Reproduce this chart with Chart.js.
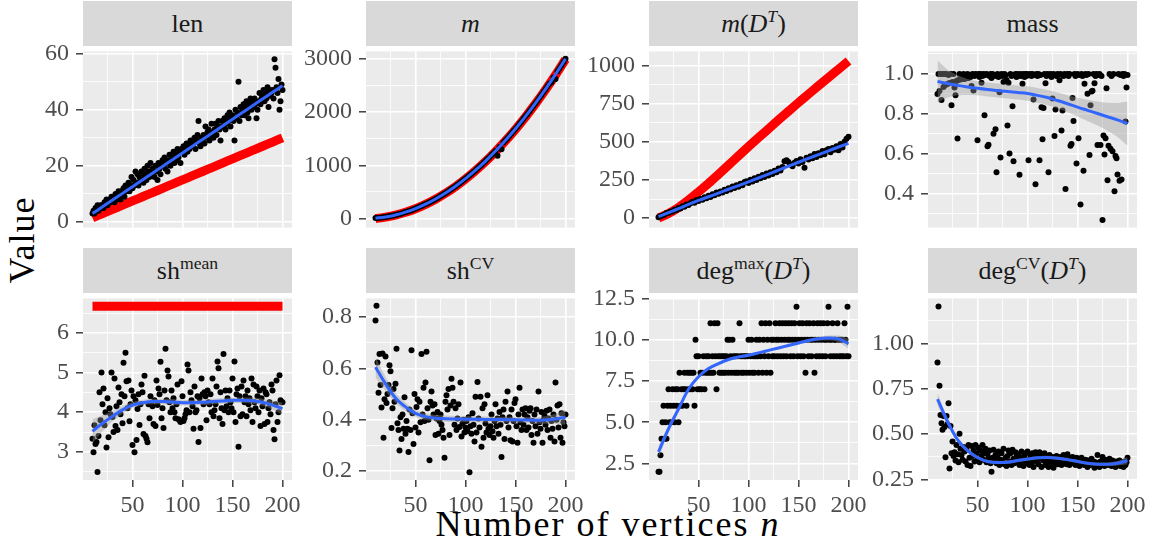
<!DOCTYPE html>
<html>
<head>
<meta charset="utf-8">
<script src="https://cdn.jsdelivr.net/npm/chart.js@4.4.0/dist/chart.umd.min.js"></script>
<style>
  body { margin: 0; background: #fff; width: 1155px; height: 551px; position: relative; overflow: hidden; font-family: 'Liberation Serif', serif; }
  canvas { position: absolute; }
  .strip { position: absolute; background: #D9D9D9; color: #1A1A1A; font-size: 26px; display: flex; align-items: center; justify-content: center; }
  .strip span { display: inline-block; line-height: 1; }
  .strip sup { font-size: 0.68em; vertical-align: 0.55em; line-height: 0; }
  .ytitle { position: absolute; left: 22px; top: 240px; font-size: 36px; transform: translate(-50%, -50%) rotate(-90deg); white-space: nowrap; letter-spacing: 1px; }
  .xtitle { position: absolute; left: 608px; top: 524px; font-size: 36px; transform: translate(-50%, -50%); white-space: nowrap; letter-spacing: 2px; }
</style>
</head>
<body>
<div class="ytitle">Value</div>
<div class="xtitle">Number of vertices <i>n</i></div>
<script>
// number of vertices for each sampled graph
const nAll = [10,11,12,13,14,15,16,17,18,19,20,21,22,23,24,25,26,27,28,29,30,31,32,33,34,35,36,37,38,39,
  40,41,42,43,44,45,46,47,48,49,50,51,52,53,54,55,56,57,58,59,60,61,62,63,64,65,66,67,68,69,
  70,71,72,73,74,75,76,77,78,79,80,81,82,83,84,85,86,87,88,89,90,91,92,93,94,95,96,97,98,99,
  100,101,102,103,104,105,106,107,108,109,110,111,112,113,114,115,116,117,118,119,
  120,121,122,123,124,125,126,127,128,129,130,131,132,133,134,135,136,137,138,139,
  140,141,142,143,144,145,146,147,148,149,150,151,152,153,154,155,156,157,158,159,
  160,161,162,163,164,165,166,167,168,169,170,171,172,173,174,175,176,177,178,179,
  180,181,182,183,184,185,186,187,188,189,190,191,192,193,194,195,196,197,198,199,200];
const nEven = [10,12,14,16,18,20,22,24,26,28,30,32,34,36,38,40,42,44,46,48,50,52,54,56,58,60,62,64,66,68,
  70,72,74,76,78,80,82,84,86,88,90,92,94,96,98,100,102,104,106,108,110,112,114,116,118,120,122,124,126,128,
  130,132,134,136,138,140,142,144,146,148,150,152,154,156,158,160,162,164,166,168,170,172,174,176,178,180,
  182,184,186,188,190,192,194,196,198,200];
const nCurve = [10,20,30,40,50,60,70,80,90,100,110,120,130,140,150,160,170,180,190,200];

// measured values
const lenValues = [3,4,3,5,4,6,4,5,6,5, 6,5,7,6,8,6,7,8,7,9, 8,9,7,10,8,9,11,10,8,11,
  10,12,9,13,11,12,14,11,13,16, 12,15,13,18,14,17,13,16,15,18, 16,14,19,17,15,20,18,16,21,17,
  19,18,16,20,18,15,21,19,17,20, 22,20,23,19,21,18,22,24,20,21, 23,25,21,24,22,26,23,25,21,26,
  25,27,24,26,28,25,27,26,29,28, 27,28,30,26,29,31,36,28,27,30, 29,31,28,34,30,32,33,29,31,35,
  32,30,33,35,31,34,36,33,29,34, 36,34,37,33,35,38,36,39,34,37, 38,36,29,40,37,39,50,36,41,38,
  40,42,38,41,43,39,37,42,44,40, 43,41,44,42,37,40,43,46,42,44, 45,47,43,46,44,48,41,47,45,46,
  47,44,58,55,48,46,51,40,43,49, 47];
const mValues = [8,11,15,19,25,30,37,43,51,59, 68,77,87,96,109,121,132,146,158,174,
  188,203,220,234,253,271,287,308,327,345, 369,388,412,432,457,481,503,530,553,582,
  608,633,664,690,722,751,779,813,841,876, 908,939,976,1007,1046,1080,1117,1150,1192,1227,
  1268,1180,1345,1300,1430,1470,1510,1557,1598,1644, 1688,1731,1780,1824,1873,1921,1966,2018,2066,2117,
  2168,2217,2272,2322,2377,2431,2485,2538,2560,2651, 2620,2766,2823,2880,2941,3001];
const mdtValues = [5,14,18,22,33,34,44,43,55,54, 66,63,78,75,90,86,98,107,101,118,
  112,127,120,137,131,146,138,157,150,168, 160,175,168,186,178,196,188,207,198,216,
  206,226,215,236,241,230,252,240,262,250, 271,262,283,270,292,280,300,289,310,300,
  325,312,335,372,379,368,352,340,362,375, 358,385,368,330,395,384,405,392,420,400,
  425,412,440,418,445,452,432,460,448,470, 445,485,462,500,520,533];
const massValues = [0.90,1.00,0.915,1.00,0.87,1.00,0.935,1.00,0.945,1.00,
  0.95,0.995,0.955,1.00,0.843,0.96,1.00,0.932,0.893,0.965,
  0.677,0.97,1.00,0.972,0.995,0.975,1.00,0.975,0.99,0.978,
  1.00,0.98,0.99,0.985,0.94,1.00,0.917,0.99,1.00,0.995,
  0.668,1.00,0.985,1.00,0.956,0.99,1.00,0.794,0.995,1.00,
  0.638,0.646,0.99,1.00,0.98,1.00,0.701,0.99,0.723,0.508,
  1.00,0.985,0.909,0.582,1.00,0.99,0.96,1.00,0.995,0.97,
  0.742,0.956,0.602,1.00,0.99,0.838,0.563,0.995,1.00,0.985,
  1.00,0.99,0.495,1.00,0.99,0.951,1.00,0.985,1.00,0.99,
  1.00,0.568,0.995,1.00,0.99,1.00,0.872,0.995,0.448,1.00,
  0.99,1.00,0.568,0.995,0.833,0.673,0.830,1.00,0.953,0.99,
  1.00,0.508,0.995,1.00,0.985,0.877,1.00,0.689,0.822,0.99,
  1.00,0.995,0.968,1.00,0.717,0.817,0.99,1.00,0.424,0.995,
  1.00,0.99,1.00,0.641,0.649,0.880,0.764,1.00,0.99,0.552,
  1.00,0.678,0.995,0.347,1.00,0.99,0.516,0.951,1.00,0.995,
  0.901,1.00,0.594,0.843,0.912,0.916,1.00,0.953,0.99,1.00,
  0.645,0.995,1.00,0.645,0.99,0.269,0.692,0.597,0.678,0.929,
  0.468,0.641,1.00,0.626,0.99,0.613,1.00,0.413,0.590,0.578,
  0.497,1.00,0.465,0.995,0.472,1.00,0.99,1.00,0.762,0.932, 0.995];
const shMeanValues = [3.33,2.99,3.67,3.20,3.25,2.49,3.40,4.50,3.80,5.00,
  4.20,4.60,3.67,4.00,3.11,4.35,3.37,4.10,3.95,5.00, 3.88,3.50,4.85,3.65,4.15,3.55,4.62,4.25,3.95,4.45,
  3.72,5.25,4.40,5.50,4.78,4.10,4.80,3.77,4.20,4.55, 3.17,4.40,2.99,4.30,3.30,4.08,4.45,3.68,4.20,4.70,
  4.50,3.45,4.92,3.40,3.33,3.24,4.20,3.85,4.40,4.20, 4.15,3.70,4.30,3.65,4.80,4.18,4.60,4.45,5.27,3.85,
  4.10,3.60,4.55,5.60,4.30,5.05,4.90,4.25,4.00,4.55, 4.10,4.35,4.00,3.85,4.20,4.70,3.82,3.80,3.75,4.78,
  4.40,3.78,3.85,3.95,4.05,5.20,5.05,4.00,4.50,4.30, 4.15,3.58,4.65,4.00,4.05,4.40,3.25,4.35,3.60,4.85,
  4.45,4.20,4.50,4.40,3.80,4.55,4.25,4.20,4.45,4.00, 4.85,3.90,4.05,4.20,4.65,5.28,5.11,3.85,4.50,4.10,
  3.70,5.47,4.05,4.55,4.15,4.35,4.00,4.55,4.25,4.10, 4.85,4.00,5.28,3.75,4.45,4.60,3.13,4.40,3.90,4.65,
  3.95,4.80,4.25,4.40,3.90,4.55,4.20,4.35,4.05,4.85, 3.75,4.70,4.25,4.10,4.65,4.40,4.00,4.55,3.65,4.35,
  4.15,4.60,3.70,4.50,4.45,3.75,4.10,4.25,3.95,4.70, 4.55,3.55,3.32,4.20,4.80,3.75,4.00,4.93,4.30,4.25, 4.25];
const shCvValues = [0.787,0.844,0.623,0.505,0.656,0.535,0.448,0.658,0.330,0.480,
  0.646,0.465,0.500,0.535,0.612,0.589,0.368,0.445,0.520,0.470, 0.540,0.677,0.386,0.360,0.280,0.410,0.325,0.420,0.365,0.488,
  0.345,0.395,0.365,0.274,0.440,0.360,0.671,0.425,0.305,0.500, 0.370,0.450,0.480,0.350,0.470,0.390,0.656,0.420,0.525,0.395,
  0.545,0.665,0.445,0.400,0.242,0.470,0.510,0.455,0.420,0.460, 0.340,0.405,0.430,0.345,0.395,0.420,0.380,0.360,0.330,0.252,
  0.470,0.495,0.440,0.520,0.340,0.455,0.560,0.525,0.470,0.380, 0.445,0.360,0.405,0.460,0.372,0.545,0.335,0.385,0.400,0.350,
  0.370,0.395,0.355,0.410,0.195,0.375,0.345,0.425,0.380,0.315, 0.490,0.350,0.547,0.405,0.370,0.490,0.295,0.445,0.330,0.460,
  0.385,0.350,0.495,0.365,0.340,0.375,0.420,0.355,0.330,0.395, 0.460,0.375,0.405,0.345,0.430,0.380,0.255,0.410,0.440,0.325,
  0.470,0.395,0.510,0.370,0.410,0.320,0.440,0.315,0.395,0.465, 0.480,0.375,0.310,0.420,0.525,0.390,0.360,0.440,0.380,0.420,
  0.445,0.360,0.410,0.370,0.435,0.445,0.340,0.395,0.310,0.420, 0.375,0.440,0.345,0.510,0.390,0.365,0.430,0.310,0.400,0.415,
  0.380,0.435,0.360,0.405,0.440,0.330,0.395,0.365,0.420,0.315, 0.545,0.400,0.455,0.370,0.460,0.330,0.425,0.310,0.390,0.375, 0.420];
const degMaxValues = [2,2,3,4,5,6,4,5,4,6, 7,5,6,5,7,6,5,7,6,7, 5,8,6,7,6,7,8,7,6,8,
  7,8,7,8,7,8,6,10,9,7, 9,7,8,7,8,9,7,8,9,8, 9,8,11,8,9,8,11,9,7,11,
  9,8,9,8,9,8,9,8,9,10, 8,10,9,8,10,9,8,9,8,9, 8,11,9,8,9,8,9,9,8,9,
  10,8,9,10,8,9,8,9,10,9, 8,10,9,11,8,10,9,11,8,10, 9,11,8,10,9,10,9,11,10,9,
  10,11,9,10,11,9,10,11,9,10, 11,10,9,11,10,9,11,10,12,9, 10,11,9,10,11,9,10,8,11,10,
  9,11,10,9,10,11,8,10,9,11, 10,9,11,10,9,11,10,9,10,11, 12,10,9,10,11,9,10,10,9,11,
  10,9,10,9,10,9,11,10,9,12, 9];
const degCvValues = [0.894,1.203,0.767,0.605,0.560,0.525,0.600,0.540,0.373,0.600,
  0.555,0.670,0.311,0.545,0.395,0.460,0.380,0.400,0.355,0.440, 0.390,0.345,0.503,0.420,0.385,0.360,0.430,0.405,0.350,0.415,
  0.330,0.440,0.370,0.325,0.435,0.380,0.410,0.350,0.440,0.395, 0.360,0.425,0.345,0.410,0.380,0.440,0.360,0.395,0.420,0.345,
  0.390,0.365,0.410,0.340,0.293,0.370,0.415,0.350,0.385,0.340, 0.375,0.405,0.330,0.360,0.395,0.345,0.420,0.335,0.370,0.325,
  0.380,0.410,0.350,0.395,0.330,0.415,0.365,0.340,0.400,0.375, 0.345,0.390,0.330,0.370,0.405,0.355,0.325,0.380,0.395,0.340,
  0.405,0.360,0.330,0.385,0.345,0.395,0.320,0.375,0.400,0.350, 0.390,0.335,0.400,0.365,0.320,0.385,0.355,0.395,0.330,0.375,
  0.350,0.320,0.385,0.360,0.340,0.375,0.315,0.365,0.345,0.380, 0.335,0.365,0.350,0.375,0.330,0.370,0.385,0.345,0.360,0.335,
  0.390,0.355,0.330,0.365,0.345,0.375,0.340,0.360,0.330,0.370, 0.345,0.365,0.325,0.355,0.370,0.335,0.350,0.330,0.360,0.345,
  0.320,0.355,0.340,0.330,0.365,0.335,0.350,0.315,0.345,0.325, 0.385,0.340,0.320,0.350,0.330,0.375,0.345,0.325,0.360,0.335,
  0.350,0.330,0.365,0.340,0.325,0.355,0.335,0.345,0.320,0.350, 0.340,0.330,0.355,0.325,0.345,0.335,0.320,0.350,0.330,0.345, 0.370];

// reference (theory) curves, red
const lenRed = [1.5,3,4.5,6,7.5,9,10.5,12,13.5,15,16.5,18,19.5,21,22.5,24,25.5,27,28.5,30];
const mRed = [0,27,64,117,184,266,362,474,601,743,900,1071,1258,1460,1677,1909,2156,2419,2696,2990];
const mdtRed = [0,30,70,118,172,228,287,347,408,468,527,585,643,700,757,812,867,921,975,1029];
const shMeanRed = [6.67,6.67,6.67,6.67,6.67,6.67,6.67,6.67,6.67,6.67,6.67,6.67,6.67,6.67,6.67,6.67,6.67,6.67,6.67,6.67];

// loess fits (blue) and their confidence bands
const lenFit = [3.0,5.4,7.8,10.2,12.6,15.0,17.4,19.8,22.2,24.6,27.0,29.4,31.8,34.2,36.6,39.0,41.4,43.8,46.2,48.6];
const mFit = [8,30,68,120,188,270,368,480,608,750,908,1080,1268,1470,1688,1920,2168,2430,2708,3000];
const mdtFit = [10,36,62,90,116,140,164,189,213,238,263,288,314,340,366,391,416,441,466,490];
const massFit = [0.962,0.952,0.943,0.935,0.928,0.922,0.917,0.912,0.907,0.902,0.893,0.882,0.867,0.851,0.834,0.818,0.802,0.786,0.770,0.752];
const massHi = [1.067,1.022,0.993,0.975,0.963,0.957,0.952,0.947,0.942,0.938,0.930,0.920,0.907,0.894,0.881,0.871,0.862,0.856,0.855,0.862];
const massLo = [0.857,0.882,0.893,0.895,0.893,0.887,0.882,0.877,0.872,0.866,0.856,0.844,0.827,0.808,0.787,0.765,0.742,0.716,0.685,0.642];
const shMeanFit = [3.52,3.72,3.90,4.06,4.18,4.24,4.27,4.27,4.26,4.24,4.24,4.25,4.27,4.28,4.30,4.30,4.29,4.25,4.18,4.09];
const shMeanHi = [3.82,3.92,4.03,4.16,4.26,4.31,4.34,4.34,4.33,4.31,4.31,4.32,4.34,4.35,4.37,4.37,4.37,4.34,4.29,4.24];
const shMeanLo = [3.22,3.52,3.77,3.96,4.10,4.17,4.20,4.20,4.19,4.17,4.17,4.18,4.20,4.21,4.23,4.23,4.21,4.16,4.07,3.94];
const shCvFit = [0.605,0.540,0.485,0.450,0.425,0.412,0.406,0.404,0.403,0.402,0.402,0.401,0.401,0.400,0.400,0.399,0.398,0.399,0.403,0.410];
const shCvHi = [0.645,0.568,0.505,0.466,0.439,0.425,0.418,0.416,0.415,0.414,0.414,0.413,0.413,0.412,0.412,0.411,0.411,0.414,0.423,0.440];
const shCvLo = [0.565,0.512,0.465,0.434,0.411,0.399,0.394,0.392,0.391,0.390,0.390,0.389,0.389,0.388,0.388,0.387,0.385,0.384,0.383,0.380];
const degMaxFit = [3.2,4.6,5.8,7.0,7.75,8.25,8.55,8.8,8.95,9.06,9.2,9.35,9.5,9.65,9.8,9.95,10.05,10.1,10.05,9.75];
const degMaxHi = [3.55,4.85,5.98,7.14,7.87,8.35,8.65,8.89,9.04,9.15,9.29,9.44,9.59,9.75,9.9,10.05,10.17,10.25,10.25,10.05];
const degMaxLo = [2.85,4.35,5.62,6.86,7.63,8.15,8.45,8.71,8.86,8.97,9.11,9.26,9.41,9.55,9.7,9.85,9.93,9.95,9.85,9.45];
const degCvFit = [0.693,0.570,0.470,0.410,0.372,0.350,0.344,0.346,0.355,0.363,0.370,0.372,0.368,0.360,0.350,0.340,0.335,0.334,0.340,0.355];
const degCvHi = [0.728,0.590,0.485,0.422,0.382,0.359,0.353,0.355,0.364,0.372,0.379,0.381,0.377,0.369,0.359,0.349,0.344,0.344,0.352,0.375];
const degCvLo = [0.658,0.550,0.455,0.398,0.362,0.341,0.335,0.337,0.346,0.354,0.361,0.363,0.359,0.351,0.341,0.331,0.326,0.324,0.328,0.335];

// x axis breaks
const xMajor = [50, 100, 150, 200];
const xLabels = ['50', '100', '150', '200'];

const panels = [
  { title: 'len', x: nAll, y: lenValues, red: lenRed, fit: lenFit, min: -2, max: 60.8,
    major: [0, 20, 40, 60], labels: ['0', '20', '40', '60'] },
  { title: '<i>m</i>', x: nEven, y: mValues, red: mRed, fit: mFit, min: -170, max: 3140,
    major: [0, 1000, 2000, 3000], labels: ['0', '1000', '2000', '3000'] },
  { title: '<i>m</i>(<i>D</i><sup><i>T</i></sup>)', x: nEven, y: mdtValues, red: mdtRed, fit: mdtFit, min: -62, max: 1092,
    major: [0, 250, 500, 750, 1000], labels: ['0', '250', '500', '750', '1000'] },
  { title: 'mass', x: nAll, y: massValues, fit: massFit, hi: massHi, lo: massLo, min: 0.231, max: 1.113,
    major: [0.4, 0.6, 0.8, 1.0], labels: ['0.4', '0.6', '0.8', '1.0'] },
  { title: 'sh<sup>mean</sup>', x: nAll, y: shMeanValues, red: shMeanRed, fit: shMeanFit, hi: shMeanHi, lo: shMeanLo, min: 2.29, max: 6.87,
    major: [3, 4, 5, 6], labels: ['3', '4', '5', '6'] },
  { title: 'sh<sup>CV</sup>', x: nAll, y: shCvValues, fit: shCvFit, hi: shCvHi, lo: shCvLo, min: 0.165, max: 0.873,
    major: [0.2, 0.4, 0.6, 0.8], labels: ['0.2', '0.4', '0.6', '0.8'] },
  { title: 'deg<sup>max</sup>(<i>D</i><sup><i>T</i></sup>)', x: nAll, y: degMaxValues, fit: degMaxFit, hi: degMaxHi, lo: degMaxLo, min: 1.5, max: 12.5,
    major: [2.5, 5, 7.5, 10, 12.5], labels: ['2.5', '5.0', '7.5', '10.0', '12.5'] },
  { title: 'deg<sup>CV</sup>(<i>D</i><sup><i>T</i></sup>)', x: nAll, y: degCvValues, fit: degCvFit, hi: degCvHi, lo: degCvLo, min: 0.248, max: 1.247,
    major: [0.25, 0.5, 0.75, 1.0], labels: ['0.25', '0.50', '0.75', '1.00'] }
];

// panel geometry (pixels)
const colLeft = [83, 366, 649, 928];
const rowTop = [46, 293];
const stripTop = [1, 248];
const PW = 209, PH = 187, AX = 80, PT = 16, PR = 24, PB = 16, XH = 44;

Chart.defaults.font.family = "'Liberation Serif', serif";

const panelBg = {
  id: 'panelBg',
  beforeDraw(chart) {
    const a = chart.chartArea, c = chart.ctx;
    c.save();
    c.fillStyle = '#EBEBEB';
    c.fillRect(a.left, a.top, a.right - a.left, a.bottom - a.top);
    c.restore();
  }
};

function pts(xs, ys) {
  return xs.map((v, i) => ({ x: v, y: ys[i] }));
}

function withMinor(major, min, max) {
  const step = major[1] - major[0];
  const out = [];
  const first = major[0] - step / 2;
  for (let v = first; v <= max + 1e-9; v += step / 2) {
    if (v >= min - 1e-9) out.push(v);
  }
  return out;
}

const tickFont = { family: "'Liberation Serif', serif", size: 24 };

panels.forEach((p, idx) => {
  const col = idx % 4, row = Math.floor(idx / 4);
  const bottom = row === 1;

  const strip = document.createElement('div');
  strip.className = 'strip';
  strip.style.left = colLeft[col] + 'px';
  strip.style.top = stripTop[row] + 'px';
  strip.style.width = PW + 'px';
  strip.style.height = '45px';
  strip.innerHTML = '<span>' + p.title + '</span>';
  document.body.appendChild(strip);

  const canvas = document.createElement('canvas');
  const w = AX + PW + PR;
  const h = PT + PH + (bottom ? XH + 4 : PB);
  canvas.width = w;
  canvas.height = h;
  canvas.style.left = (colLeft[col] - AX) + 'px';
  canvas.style.top = (rowTop[row] - PT) + 'px';
  document.body.appendChild(canvas);

  const datasets = [];
  if (p.lo) {
    datasets.push({ data: pts(nCurve, p.lo), showLine: true, pointRadius: 0, borderWidth: 0,
      borderColor: 'rgba(0,0,0,0)', cubicInterpolationMode: 'monotone', fill: false, order: 2 });
    datasets.push({ data: pts(nCurve, p.hi), showLine: true, pointRadius: 0, borderWidth: 0,
      borderColor: 'rgba(0,0,0,0)', cubicInterpolationMode: 'monotone',
      fill: { target: 0 }, backgroundColor: 'rgba(153,153,153,0.4)', order: 1 });
  }
  if (p.red) {
    datasets.push({ data: pts(nCurve, p.red), showLine: true, pointRadius: 0, borderWidth: 9,
      borderColor: '#FF0000', borderCapStyle: 'butt', cubicInterpolationMode: 'monotone', order: 5 });
  }
  datasets.push({ data: pts(p.x, p.y), pointRadius: 3, pointBackgroundColor: '#000',
    pointBorderWidth: 0, order: 3 });
  datasets.push({ data: pts(nCurve, p.fit), showLine: true, pointRadius: 0, borderWidth: 3,
    borderColor: '#3366FF', cubicInterpolationMode: 'monotone', order: 0 });

  const yTicks = withMinor(p.major, p.min, p.max);
  const xTicks = withMinor(xMajor, 0.5, 209.5);

  new Chart(canvas.getContext('2d'), {
    type: 'scatter',
    data: { datasets: datasets },
    plugins: [panelBg],
    options: {
      responsive: false,
      animation: false,
      devicePixelRatio: 1,
      font: tickFont,
      layout: { padding: { top: PT, right: PR, bottom: bottom ? 4 : PB, left: 0 } },
      plugins: { legend: { display: false }, tooltip: { enabled: false } },
      scales: {
        x: {
          type: 'linear', min: 0.5, max: 209.5,
          afterBuildTicks: s => { s.ticks = xTicks.map(v => ({ value: v, minor: !xMajor.some(m => Math.abs(m - v) < 1e-6) })); },
          afterFit: s => { s.height = bottom ? XH : 0; },
          border: { display: false },
          grid: {
            color: '#FFFFFF',
            lineWidth: c => (c.tick && c.tick.minor ? 0.8 : 1.6),
            drawTicks: bottom,
            tickLength: 7,
            tickWidth: 1.4,
            tickColor: c => (c.tick && c.tick.minor ? 'rgba(0,0,0,0)' : '#333333')
          },
          ticks: {
            display: bottom,
            autoSkip: false,
            maxRotation: 0,
            padding: 4,
            color: '#4D4D4D',
            font: tickFont,
            callback: (v) => {
              const k = xMajor.findIndex(m => Math.abs(m - v) < 1e-6);
              return k >= 0 ? xLabels[k] : '';
            }
          }
        },
        y: {
          type: 'linear', min: p.min, max: p.max,
          afterBuildTicks: s => { s.ticks = yTicks.map(v => ({ value: v, minor: !p.major.some(m => Math.abs(m - v) < 1e-6) })); },
          afterFit: s => { s.width = AX; },
          border: { display: false },
          grid: {
            color: '#FFFFFF',
            lineWidth: c => (c.tick && c.tick.minor ? 0.8 : 1.6),
            drawTicks: true,
            tickLength: 7,
            tickWidth: 1.4,
            tickColor: c => (c.tick && c.tick.minor ? 'rgba(0,0,0,0)' : '#333333')
          },
          ticks: {
            autoSkip: false,
            padding: 7,
            color: '#4D4D4D',
            font: tickFont,
            callback: (v) => {
              const k = p.major.findIndex(m => Math.abs(m - v) < 1e-6);
              return k >= 0 ? p.labels[k] : '';
            }
          }
        }
      }
    }
  });
});
</script>
</body>
</html>
